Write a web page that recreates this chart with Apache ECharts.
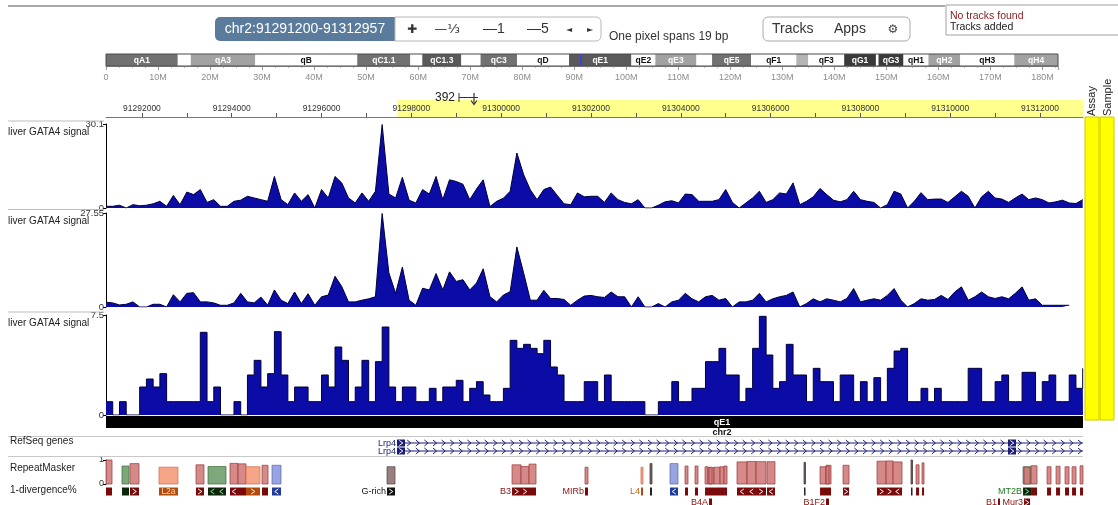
<!DOCTYPE html>
<html>
<head>
<meta charset="utf-8">
<script src="https://cdn.jsdelivr.net/npm/echarts@6/dist/echarts.min.js"></script>
<style>
html,body{margin:0;padding:0;background:#fff;}
#c{width:1118px;height:505px;}
</style>
</head>
<body>
<div id="c"></div>
<script>
// ---- view window ----
const chrName = 'chr2';
const REGION_START = 91291200;
const REGION_END = 91312957;
const BIN_BP = 150;
const HIGHLIGHT = [91297680, 91312957];
const bpPerPixelText = 'One pixel spans 19 bp';
const regionWidthMark = '392';

// ---- signal tracks (one value per 150 bp bin) ----
const trackTitles = ['liver GATA4 signal', 'liver GATA4 signal', 'liver GATA4 signal'];
const trackMax = [30.1, 27.55, 7.5];
const signal1 = [
  0.6,0.6,1.0,0,1.2,0.8,1.0,1.5,2.4,0.6,
  4.5,1.2,5.7,4.8,6.6,2.0,3.0,0.6,0.6,2.4,
  2.8,4.2,3.6,3.0,2.4,11.3,3.0,1.2,5.4,2.4,
  4.8,0,6.6,3.6,11.3,9.0,3.6,1.8,5.4,2.4,
  6.0,29.9,5.0,3.6,11.0,2.8,1.8,6.6,5.0,11.3,
  3.0,10.1,9.5,8.5,3.0,6.8,10.1,0.5,2.4,3.5,
  6.0,19.7,12.0,6.5,3.0,6.6,7.5,4.5,1.5,1.2,
  5.4,4.0,4.2,4.2,2.0,5.4,3.0,2.0,1.5,3.0,
  0,0,1.0,2.2,2.6,1.8,5.0,4.8,2.4,2.4,
  2.4,3.0,6.6,2.0,0,1.8,3.6,6.0,2.0,3.0,
  5.4,5.0,9.0,1.2,2.4,4.0,7.0,4.8,2.8,2.2,
  3.0,6.0,3.0,2.4,2.0,0,1.2,6.0,5.0,0,
  2.4,5.5,3.0,3.2,3.2,2.0,4.0,6.0,4.2,0,
  4.0,6.0,3.6,3.2,2.0,3.6,5.0,3.0,3.6,3.0,
  1.8,2.2,2.8,1.8,1.6,3.0
];
const signal2 = [
  1.4,1.2,0.6,0.8,1.5,0,0,0.8,0.8,0,
  3.6,1.5,4.0,4.2,1.5,1.5,1.2,0.5,0.5,1.2,
  4.0,1.5,1.2,2.9,0.5,5.0,2.0,1.0,4.4,1.0,
  3.9,0.5,3.0,3.5,9.0,6.0,1.5,1.5,2.0,2.4,
  3.0,27.4,10.0,4.0,11.7,2.0,0.5,5.5,5.0,9.8,
  5.0,10.3,7.5,8.0,5.0,7.0,11.2,3.0,1.5,3.5,
  4.5,17.6,10.0,2.0,2.0,4.9,2.5,2.5,2.2,0.5,
  2.0,3.2,3.4,3.0,2.8,4.4,3.0,3.0,0,3.0,
  0,0,1.0,0,1.5,2.0,4.0,2.4,1.5,3.0,
  3.4,2.0,2.5,0,1.5,1.5,2.0,4.0,1.5,2.4,
  3.0,3.4,4.4,0,1.0,2.4,1.5,2.4,2.0,1.5,
  2.5,5.4,1.5,2.0,2.4,2.0,3.4,5.4,2.0,0,
  1.0,2.4,2.0,2.2,3.4,2.2,4.4,5.9,2.0,3.0,
  4.4,3.0,2.5,3.0,2.4,4.0,5.9,2.0,2.4,0.5,
  0.5,0.5,0.5,0.5,null,null
];
const signal3 = [
  1.0,0,1.0,0,0,2.1,2.7,2.1,3.1,1.0,
  1.0,1.0,1.0,1.0,6.2,1.0,2.1,0,0,1.0,
  0,3.0,4.1,2.1,3.1,6.25,3.0,1.0,2.1,2.1,
  1.0,1.0,3.0,2.1,5.1,4.1,1.0,2.1,4.1,1.0,
  4.0,6.6,2.1,1.0,2.1,2.1,1.0,1.0,2.0,1.0,
  2.1,2.1,2.6,1.0,2.0,2.5,1.5,1.0,1.0,2.0,
  5.6,5.0,5.3,5.0,4.6,5.6,3.6,3.0,1.0,1.0,
  1.0,2.5,2.5,1.0,3.0,1.0,1.0,1.0,1.0,1.0,
  0,0,1.0,1.0,2.5,1.0,1.0,2.0,2.0,4.0,
  4.0,5.0,3.0,3.0,1.0,2.0,5.0,7.4,4.5,2.0,
  2.5,5.3,3.0,3.0,1.0,3.5,2.5,2.5,1.0,3.0,
  3.0,1.0,2.5,1.0,2.8,1.0,3.5,4.8,5.0,1.0,
  1.0,2.0,1.0,2.0,1.0,1.0,1.0,1.0,3.5,3.5,
  1.0,1.0,2.5,3.0,1.0,1.0,3.2,3.2,1.0,2.5,
  3.0,1.0,1.0,3.0,2.0,3.5
];

// ---- coordinate ruler ----
const rulerLabels = [91292000,91294000,91296000,91298000,91300000,91302000,91304000,91306000,91308000,91310000,91312000];
const rulerTicks = [91292000,91293000,91294000,91295000,91296000,91297000,91298000,91299000,91300000,91301000,91302000,
  91303000,91304000,91305000,91306000,91307000,91308000,91309000,91310000,91311000,91312000];

// ---- chromosome ideogram (Mb) ----
const chrAxisMax = 183;
const bandNames = ['qA1','','qA3','qB','qC1.1','','qC1.3','','qC3','qD','qE1','qE2','qE3','','qE5','qF1','','qF3','qG1','','qG3','qH1','qH2','qH3','qH4'];
const bandStart = [0,13.8,16.3,28.7,48.3,58.5,60.8,68.3,72.0,79.0,89.0,101.0,105.6,113.5,116.5,124.0,132.7,135.0,141.9,148.0,148.5,153.3,158.1,164.2,174.6];
const bandEnd   = [13.8,16.3,28.7,48.3,58.5,60.8,68.3,72.0,79.0,89.0,101.0,105.6,113.5,116.5,124.0,132.7,135.0,141.9,148.0,148.5,153.3,158.1,164.2,174.6,183.0];
const bandStain = ['gpos66','gneg','gpos50','gneg','gpos66','gneg','gpos75','gneg','gpos66','gneg','gpos75','gneg','gpos50','gneg','gpos66','gneg','gpos33','gneg','gpos100','gneg','gpos100','gneg','gpos50','gneg','gpos50'];

// ---- RefSeq genes ----
const geneNames = ['Lrp4', 'Lrp4'];
const geneStart = [91297680, 91297680];
const geneEnd = [91325000, 91325000];
const geneStrand = ['+', '+'];
const exonStart = [[91297680, 91311287], [91297680, 91311287]];
const exonEnd = [[91297859, 91311465], [91297859, 91311465]];

// ---- RepeatMasker ----
const rmStart = [91291200,91291556,91291734,91292380,91293204,91293472,91293961,91294140,91294318,91294674,
  91294897,91297458,91300242,91300442,91300620,91301867,91303114,91303315,91303760,91304094,
  91304317,91304540,91304607,91304740,91304874,91304963,91304629,91305252,91305475,91305676,
  91305920,91306744,91307101,91307234,91307234,91307613,91308370,91308571,91308726,91309127,
  91309239,91309372,91311622,91311800,91312156,91312357,91312557,91312713,91312891,91311644,91311064];
const rmEnd = [91291334,91291712,91291935,91292803,91293382,91293872,91294140,91294318,91294630,91294808,
  91295097,91297636,91300442,91300620,91300776,91301934,91303159,91303359,91303938,91304161,
  91304384,91304607,91304740,91304874,91304963,91305030,91304696,91305475,91305676,91305898,
  91306098,91306766,91307234,91307346,91307301,91307747,91308571,91308726,91308927,91309150,
  91309306,91309417,91311800,91311933,91312245,91312446,91312646,91312802,91312957,91311778,91311108];
const rmScore = [1.0,0.75,0.85,0.70,0.80,0.73,0.86,0.84,0.72,0.78,
  0.78,0.72,0.80,0.73,0.83,0.70,0.70,0.85,0.85,0.75,
  0.75,0.72,0.68,0.70,0.72,0.75,0.70,0.92,0.94,0.93,
  0.93,0.90,0.72,0.78,0.75,0.78,0.95,0.96,0.92,1.0,
  0.80,0.88,0.72,0.76,0.72,0.74,0.72,0.72,0.76,0.70,0];
const rmClass = ['SINE','LTR','SINE','LINE','SINE','LTR','SINE','SINE','LINE','SINE',
  'DNA','Simple','SINE','SINE','SINE','SINE','LINE','Other','DNA','SINE',
  'SINE','SINE','SINE','SINE','SINE','SINE','SINE','SINE','SINE','SINE',
  'SINE','Other','SINE','SINE','SINE','SINE','SINE','SINE','SINE','Other',
  'SINE','SINE','LTR','SINE','SINE','SINE','SINE','SINE','SINE','SINE','SINE'];
const rmStrand = ['','','+','','+','-','-','','+','',
  '-','+','+','+','','','','','-','',
  '','','','','','','-','-','-','+',
  '-','','','','','+','+','+','-','',
  '','','+','','','','','','','+',''];
const rmName = ['','','','L2a','','','','','','',
  '','G-rich','B3','','','MIRb','L4','','','',
  '','','','','','','B4A','','','',
  '','','','','B1F2','','','','','',
  '','','MT2B','','','','','','','Mur3','B1'];
const rmRow = [1,1,1,1,1,1,1,1,1,1, 1,1,1,1,1,1,1,1,1,1, 1,1,1,1,1,1,2,1,1,1,
  1,1,1,1,2,1,1,1,1,1, 1,1,1,1,1,1,1,1,1,2,2];

// ---- drawing ----
const FONT = "'Liberation Sans', Arial, sans-serif";
const SIGNAL_FILL = '#0b0ba6';
const SIGNAL_EDGE = '#00003c';
const GENE_COLOR = '#1c1c78';
const stainColor = {gneg:'#ffffff', gpos33:'#b4b4b4', gpos50:'#a2a2a2', gpos66:'#717171', gpos75:'#5a5a5a', gpos100:'#3a3a3a'};
const rmStyle = {
  SINE:  {bar:'#d07c7c', edge:'#9c3a3a', glyph:'#7a0a0a', chev:'#ffffff', text:'#8a1010'},
  LINE:  {bar:'#f59b7a', edge:'#cf6e4c', glyph:'#b24a0c', chev:'#ffffff', text:'#c0600a'},
  LTR:   {bar:'#6e9e6e', edge:'#3e6e3e', glyph:'#0c260c', chev:'#8fdc8f', text:'#1f7a1f'},
  DNA:   {bar:'#8c9ade', edge:'#5a68ad', glyph:'#1f3c9a', chev:'#ffffff', text:'#1f3c9a'},
  Simple:{bar:'#8c7272', edge:'#5c4242', glyph:'#111111', chev:'#ffffff', text:'#111111'},
  Other: {bar:'#6a5a5a', edge:'#3a2a2a', glyph:'#222222', chev:'#ffffff', text:'#222222'}
};

const GL = 106, GW = 977;
const trackGrids = [{top:124, height:84}, {top:213, height:94}, {top:315, height:100}];

const grids = [
  {left:GL, top:54, width:952, height:12},
  {left:GL, top:100, width:GW, height:17},
  ...trackGrids.map(g => ({left:GL, top:g.top, width:GW, height:g.height})),
  {left:GL, top:439, width:GW, height:16},
  {left:GL, top:460, width:GW, height:24}
];

function genomicAxis(gi) {
  return {type:'value', gridIndex:gi, min:REGION_START, max:REGION_END, show:false};
}
const xAxes = [
  {type:'value', gridIndex:0, min:0, max:chrAxisMax, interval:10, offset:2,
   axisLine:{show:true, lineStyle:{color:'#9a9a9a'}},
   axisTick:{show:true, length:4, lineStyle:{color:'#9a9a9a'}},
   minorTick:{show:true, splitNumber:4, length:2, lineStyle:{color:'#b0b0b0'}},
   splitLine:{show:false},
   axisLabel:{fontSize:9, color:'#8c8c8c', margin:5, fontFamily:FONT, showMaxLabel:false,
     formatter: v => v === 0 ? '0' : v + 'M'}},
  {type:'value', gridIndex:1, min:REGION_START, max:REGION_END, z:10,
   axisLine:{show:true, lineStyle:{color:'#777', width:1}},
   axisTick:{show:true, inside:true, length:4, customValues:rulerTicks, lineStyle:{color:'#555'}},
   splitLine:{show:false},
   axisLabel:{inside:true, customValues:rulerLabels, fontSize:8.5, color:'#333', margin:4, fontFamily:FONT,
     formatter: v => String(v)}},
  genomicAxis(2), genomicAxis(3), genomicAxis(4), genomicAxis(5), genomicAxis(6)
];

function signalAxis(gi, max) {
  return {type:'value', gridIndex:gi, min:0, max:max, interval:max,
    axisLine:{show:true, lineStyle:{color:'#000', width:1}},
    axisTick:{show:true, length:3, lineStyle:{color:'#000'}},
    splitLine:{show:false},
    axisLabel:{fontSize:9.5, color:'#333', margin:2, fontFamily:FONT,
      formatter: v => v === 0 ? '0' : String(+v.toFixed(2))}};
}
const yAxes = [
  {type:'value', gridIndex:0, min:0, max:1, show:false},
  {type:'value', gridIndex:1, min:0, max:1, show:false},
  signalAxis(2, trackMax[0]), signalAxis(3, trackMax[1]), signalAxis(4, trackMax[2]),
  {type:'value', gridIndex:5, min:0, max:2, inverse:true, show:false},
  {type:'value', gridIndex:6, min:0, max:1, interval:1,
   axisLine:{show:true, lineStyle:{color:'#000'}},
   axisTick:{show:true, length:3, lineStyle:{color:'#000'}},
   splitLine:{show:false},
   axisLabel:{fontSize:9, color:'#333', margin:2, fontFamily:FONT}}
];

function binPoints(values) {
  return values.map((v, i) => [REGION_START + i * BIN_BP, v]);
}

function signalSeries(values, idx, step) {
  const pts = binPoints(values);
  if (step) pts.push([REGION_END, values[values.length - 1]]);
  return {
    type:'line', xAxisIndex:idx + 2, yAxisIndex:idx + 2, data:pts,
    showSymbol:false, symbol:'none', step: step ? 'end' : false, connectNulls:false,
    lineStyle:{color:SIGNAL_EDGE, width:1}, areaStyle:{color:SIGNAL_FILL, opacity:1},
    silent:true, z:3
  };
}

// ideogram bands
const ideogramSeries = {
  type:'custom', xAxisIndex:0, yAxisIndex:0, silent:true, z:3,
  data: bandNames.map((n, i) => [bandStart[i], bandEnd[i], i]),
  encode:{x:[0, 1]},
  renderItem(params, api) {
    const i = api.value(2);
    const p0 = api.coord([api.value(0), 0]);
    const p1 = api.coord([api.value(1), 1]);
    const fill = stainColor[bandStain[i]];
    const children = [{type:'rect', shape:{x:p0[0], y:p1[1], width:p1[0] - p0[0], height:p0[1] - p1[1]},
      style:{fill:fill}}];
    if (bandNames[i]) {
      children.push({type:'text', style:{text:bandNames[i], x:(p0[0] + p1[0]) / 2, y:(p0[1] + p1[1]) / 2 + 0.5,
        align:'center', verticalAlign:'middle', fill: bandStain[i] === 'gneg' ? '#111' : '#fff',
        font:'bold 8.5px ' + FONT}});
    }
    return {type:'group', children};
  }
};
const ideogramOutline = {
  type:'custom', xAxisIndex:0, yAxisIndex:0, silent:true, z:4,
  data:[[0, chrAxisMax]], encode:{x:[0, 1]},
  renderItem(params, api) {
    const p0 = api.coord([api.value(0), 0]);
    const p1 = api.coord([api.value(1), 1]);
    return {type:'rect', shape:{x:p0[0], y:p1[1], width:p1[0] - p0[0], height:p0[1] - p1[1]},
      style:{fill:'none', stroke:'#4a4a4a', lineWidth:1}};
  }
};
const regionMarker = {
  type:'line', xAxisIndex:0, yAxisIndex:0, data:[], silent:true, z:5,
  markLine:{silent:true, symbol:'none', animation:false,
    label:{show:false}, lineStyle:{color:'#3a3aff', width:1.5, type:'solid'},
    data:[{xAxis:(REGION_START + REGION_END) / 2 / 1e6}]}
};

// ruler highlight
const rulerHighlight = {
  type:'line', xAxisIndex:1, yAxisIndex:1, data:[], silent:true, z:1,
  markArea:{silent:true, itemStyle:{color:'#ffff8e'},
    data:[[{xAxis:HIGHLIGHT[0]}, {xAxis:HIGHLIGHT[1]}]]}
};

function chevron(x, y, dir, color, half) {
  const h = half || 3, w = 1.8;
  const pts = dir === '-' ? [[x + w, y - h], [x - w, y], [x + w, y + h]] : [[x - w, y - h], [x + w, y], [x - w, y + h]];
  return {type:'polyline', shape:{points:pts}, style:{stroke:color, lineWidth:1, fill:null}};
}

// gene models
const geneSeries = {
  type:'custom', xAxisIndex:5, yAxisIndex:5, silent:true, clip:false, z:3,
  data: geneNames.map((n, i) => [geneStart[i], geneEnd[i], i]),
  encode:{x:[0, 1]},
  renderItem(params, api) {
    const i = api.value(2);
    const cs = params.coordSys;
    const y = api.coord([REGION_START, i + 0.5])[1];
    const xs = Math.max(api.coord([geneStart[i], 0])[0], cs.x);
    const xe = Math.min(api.coord([geneEnd[i], 0])[0], cs.x + cs.width);
    const children = [];
    children.push({type:'line', shape:{x1:xs, y1:y, x2:xe, y2:y}, style:{stroke:GENE_COLOR, lineWidth:1}});
    const exX = exonStart[i].map((s, k) => [api.coord([s, 0])[0], api.coord([exonEnd[i][k], 0])[0]]);
    for (let x = xs + 12; x < xe - 2; x += 8.6) {
      if (exX.some(e => x > e[0] - 3 && x < e[1] + 3)) continue;
      children.push(chevron(x, y, geneStrand[i], GENE_COLOR, 3));
    }
    exX.forEach(e => {
      children.push({type:'rect', shape:{x:e[0], y:y - 3.5, width:Math.max(e[1] - e[0], 1), height:7},
        style:{fill:GENE_COLOR}});
      if (e[1] - e[0] >= 6) children.push(chevron((e[0] + e[1]) / 2, y, geneStrand[i], '#fff', 2.5));
    });
    children.push({type:'text', style:{text:geneNames[i], x:xs - 1, y:y + 0.5, align:'right', verticalAlign:'middle',
      fill:GENE_COLOR, font:'9px ' + FONT}});
    return {type:'group', children};
  }
};

// repeat elements: bar by score, glyph row below
const repeatSeries = {
  type:'custom', xAxisIndex:6, yAxisIndex:6, silent:true, clip:false, z:3,
  data: rmStart.map((s, i) => [s, rmEnd[i], rmScore[i], i]),
  encode:{x:[0, 1], y:2},
  renderItem(params, api) {
    const i = api.value(3);
    const st = rmStyle[rmClass[i]];
    const x0 = api.coord([rmStart[i], 0])[0];
    const x1 = api.coord([rmEnd[i], 0])[0];
    const w = Math.max(x1 - x0, 1.5);
    const yb = api.coord([REGION_START, 0])[1];
    const yt = api.coord([REGION_START, rmScore[i]])[1];
    const children = [];
    if (yb - yt >= 1) {
      children.push({type:'rect', shape:{x:x0, y:yt, width:w, height:yb - yt},
        style:{fill:st.bar, stroke:st.edge, lineWidth:0.8, opacity:0.9}});
    }
    const gy = rmRow[i] === 1 ? yb + 3.5 : yb + 14.5;
    children.push({type:'rect', shape:{x:x0, y:gy, width:w, height:8}, style:{fill:st.glyph}});
    const name = rmName[i];
    if (name && w > 16) {
      children.push({type:'text', style:{text:name, x:x0 + w / 2, y:gy + 4.5, align:'center', verticalAlign:'middle',
        fill:'#ffd9b8', font:'8.5px ' + FONT}});
    } else {
      if (rmStrand[i] && w >= 5.5) {
        const n = Math.max(1, Math.floor(w / 8));
        for (let k = 0; k < n; k++) {
          children.push(chevron(x0 + w * (k + 0.5) / n, gy + 4, rmStrand[i], st.chev, 2.5));
        }
      }
      if (name) {
        children.push({type:'text', style:{text:name, x:x0 - 1, y:gy + 4.5, align:'right', verticalAlign:'middle',
          fill:st.text, font:'9px ' + FONT}});
      }
    }
    return {type:'group', children};
  }
};

// ---- page furniture ----
function txt(x, y, text, o) {
  o = o || {};
  return {type:'text', x:x, y:y, rotation:o.rotation || 0, silent:true, z:o.z || 10,
    style:{text:text, fill:o.fill || '#222', font:(o.weight || 'normal') + ' ' + (o.size || 10) + 'px ' + (o.family || FONT),
      align:o.align || 'left', verticalAlign:o.va || 'middle'}};
}
function hline(x1, x2, y, color, w) {
  return {type:'line', silent:true, z:1, shape:{x1:x1, y1:y, x2:x2, y2:y}, style:{stroke:color, lineWidth:w || 1}};
}
function rect(x, y, w, h, style, r, z) {
  return {type:'rect', silent:true, z:z || 1, shape:{x:x, y:y, width:w, height:h, r:r || 0}, style:style};
}

const viewBand = bandNames[bandStart.findIndex((s, i) => REGION_START / 1e6 >= s && REGION_START / 1e6 < bandEnd[i])];

const graphics = [
  hline(8, 945, 6, '#8a8a8a', 1.5),
  // locus box and zoom controls
  rect(215, 17, 180, 24, {fill:'#5a7b9b'}, [5, 0, 0, 5]),
  txt(305, 29.5, chrName + ':' + REGION_START + '-' + REGION_END, {fill:'#fff', size:14, align:'center'}),
  rect(395, 17, 206, 24, {fill:'#fff', stroke:'#b8b8b8', lineWidth:1}, [0, 5, 5, 0]),
  txt(412, 29.5, '\u271A', {size:12, align:'center', fill:'#333', family:"'DejaVu Sans', sans-serif"}),
  txt(447, 29.5, '\u2014\u2153', {size:13, align:'center', fill:'#333', family:"'DejaVu Sans', sans-serif"}),
  txt(494, 29.5, '\u20141', {size:14, align:'center', fill:'#333'}),
  txt(538, 29.5, '\u20145', {size:14, align:'center', fill:'#333'}),
  txt(569, 29.5, '\u25C4', {size:8, align:'center', fill:'#333', family:"'DejaVu Sans', sans-serif"}),
  txt(590, 29.5, '\u25BA', {size:8, align:'center', fill:'#333', family:"'DejaVu Sans', sans-serif"}),
  txt(609, 37, bpPerPixelText, {size:12, fill:'#333'}),
  rect(763, 17, 147, 24, {fill:'#fff', stroke:'#aaa', lineWidth:1}, 5),
  txt(772, 29, 'Tracks', {size:14, fill:'#333'}),
  txt(834, 29, 'Apps', {size:14, fill:'#333'}),
  txt(893, 30, '\u2699', {size:12, align:'center', fill:'#444', family:"'DejaVu Sans', sans-serif"}),
  rect(946, 5, 176, 30, {fill:'#fff', stroke:'#a0a0a0', lineWidth:1}),
  txt(950, 16, 'No tracks found', {size:10.5, fill:'#8b1a1a'}),
  txt(950, 27.5, 'Tracks added', {size:10.5, fill:'#222'}),
  // region width marker
  txt(455, 98, regionWidthMark, {size:12, align:'right', fill:'#222'}),
  {type:'polyline', silent:true, z:10, shape:{points:[[459, 93], [459, 102]]}, style:{stroke:'#333', lineWidth:1}},
  {type:'polyline', silent:true, z:10, shape:{points:[[459, 97.5], [478, 97.5]]}, style:{stroke:'#333', lineWidth:1}},
  {type:'polyline', silent:true, z:10, shape:{points:[[474, 93], [474, 104]]}, style:{stroke:'#333', lineWidth:1.2}},
  {type:'polyline', silent:true, z:10, shape:{points:[[471, 100.5], [474, 104.5], [477, 100.5]]}, style:{stroke:'#333', lineWidth:1.2, fill:null}},
  // metadata columns
  rect(1085, 117, 14, 303, {fill:'#ffff00', stroke:'#cccc00', lineWidth:1}),
  rect(1100, 117, 14, 303, {fill:'#ffff00', stroke:'#cccc00', lineWidth:1}),
  txt(1092, 116, 'Assay', {size:11, rotation:Math.PI / 2, fill:'#222'}),
  txt(1108, 116, 'Sample', {size:11, rotation:Math.PI / 2, fill:'#222'}),
  // track separators in the label column
  hline(8, 104, 121, '#bdbdbd'),
  hline(8, 104, 209.5, '#bdbdbd'),
  hline(8, 104, 312, '#bdbdbd'),
  hline(8, 1083, 436.5, '#c8c8c8'),
  hline(8, 1083, 456.5, '#c8c8c8'),
  // track titles
  txt(8, 132, trackTitles[0], {size:10}),
  txt(8, 221, trackTitles[1], {size:10}),
  txt(8, 323, trackTitles[2], {size:10}),
  txt(10, 441, 'RefSeq genes', {size:10}),
  txt(10, 468, 'RepeatMasker', {size:10}),
  txt(10, 490, '1-divergence%', {size:10}),
  // cytoband of the current view
  rect(106, 416, 977, 12, {fill:'#000'}, 0, 2),
  txt(722, 422.5, viewBand, {size:9, weight:'bold', fill:'#fff', align:'center'}),
  txt(722, 432.5, chrName, {size:9, weight:'bold', fill:'#111', align:'center'})
];

const chart = echarts.init(document.getElementById('c'), null, {renderer:'canvas', width:1118, height:505, devicePixelRatio:1});
chart.setOption({
  animation:false,
  backgroundColor:'#fff',
  grid:grids,
  xAxis:xAxes,
  yAxis:yAxes,
  series:[
    rulerHighlight,
    ideogramSeries, ideogramOutline, regionMarker,
    signalSeries(signal1, 0, false),
    signalSeries(signal2, 1, false),
    signalSeries(signal3, 2, true),
    geneSeries,
    repeatSeries
  ],
  graphic:graphics
});
</script>
</body>
</html>
